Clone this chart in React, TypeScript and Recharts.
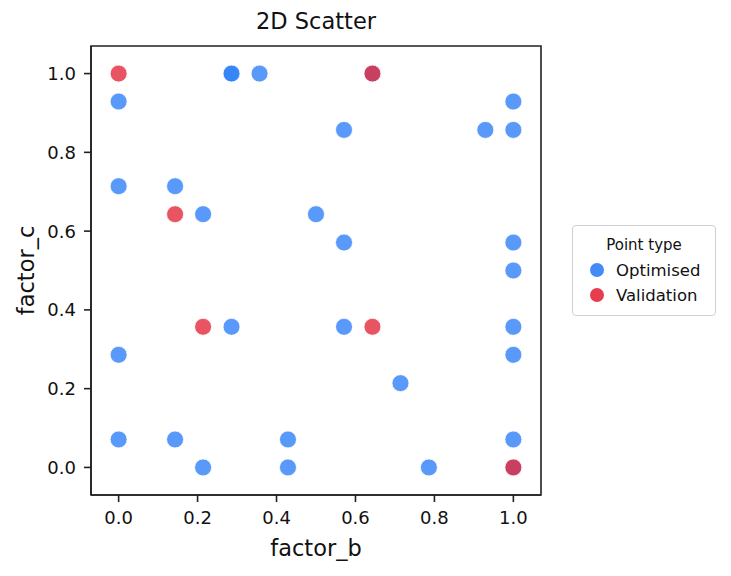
import React from 'react';
import { ScatterChart, Scatter, XAxis, YAxis, ReferenceArea } from 'recharts';

// factor_b / factor_c coordinates per point type
const optimisedB = [0, 0.286, 0.286, 0.357, 0.643, 1.0, 0.571, 0.929, 1.0, 0, 0.143, 0.214, 0.5, 0.571, 1.0, 1.0, 0.286, 0.571, 1.0, 0, 1.0, 0.714, 0, 0.143, 0.429, 1.0, 0.214, 0.429, 0.786, 1.0];
const optimisedC = [0.929, 1.0, 1.0, 1.0, 1.0, 0.929, 0.857, 0.857, 0.857, 0.714, 0.714, 0.643, 0.643, 0.571, 0.571, 0.5, 0.357, 0.357, 0.357, 0.286, 0.286, 0.214, 0.071, 0.071, 0.071, 0.071, 0, 0, 0, 0];
const validationB = [0, 0.643, 0.143, 0.214, 0.643, 1.0];
const validationC = [1.0, 1.0, 0.643, 0.357, 0.357, 0];

const ticks = [0, 0.2, 0.4, 0.6, 0.8, 1.0];
const domain: [number, number] = [-0.07, 1.07];

const BLUE = '#2f7ff7';
const RED = '#e3293b';

const series = [
  { name: 'Optimised', color: BLUE, data: optimisedB.map((b, i) => ({ b, c: optimisedC[i] })) },
  { name: 'Validation', color: RED, data: validationB.map((b, i) => ({ b, c: validationC[i] })) },
];

const dot = (color: string) => (props: any) => (
  <circle cx={props.cx} cy={props.cy} r={8.5} fill={color} fillOpacity={0.8} stroke="#fff" strokeWidth={0.8} />
);

const font = "'DejaVu Sans', sans-serif";
const ink = '#111';

export default function App() {
  return (
    <div style={{ position: 'absolute', left: 0, top: 0, width: 731, height: 576, background: '#fff', fontFamily: font }}>
      <div style={{ position: 'absolute', left: 91, width: 450, top: 8, textAlign: 'center', fontSize: 22.5, color: ink }}>
        2D Scatter
      </div>
      <ScatterChart width={731} height={576} margin={{ top: 46, right: 190, bottom: 11, left: 16 }}>
        <XAxis
          type="number"
          dataKey="b"
          domain={domain}
          ticks={ticks}
          allowDataOverflow
          tickFormatter={(v: number) => v.toFixed(1)}
          height={70}
          tickSize={7}
          tickMargin={9}
          stroke="#222"
          strokeWidth={1.6}
          tick={{ fill: ink, fontSize: 18, fontFamily: font }}
          label={{ value: 'factor_b', position: 'insideBottom', offset: 9, fill: ink, fontSize: 22.5, fontFamily: font }}
        />
        <YAxis
          type="number"
          dataKey="c"
          domain={domain}
          ticks={ticks}
          allowDataOverflow
          tickFormatter={(v: number) => v.toFixed(1)}
          width={75}
          tickSize={7}
          tickMargin={8}
          stroke="#222"
          strokeWidth={1.6}
          tick={{ fill: ink, fontSize: 18, fontFamily: font }}
          label={{ value: 'factor_c', angle: -90, position: 'insideLeft', offset: 10, fill: ink, fontSize: 22.5, fontFamily: font, style: { textAnchor: 'middle' } }}
        />
        <ReferenceArea x1={domain[0]} x2={domain[1]} y1={domain[0]} y2={domain[1]} fill="none" stroke="#222" strokeWidth={1.6} />
        {series.map(s => (
          <Scatter key={s.name} name={s.name} data={s.data} shape={dot(s.color)} isAnimationActive={false} />
        ))}
      </ScatterChart>
      <div style={{ position: 'absolute', left: 572, top: 225, width: 144, height: 91, border: '1.5px solid #d0d0d0', borderRadius: 4, boxSizing: 'border-box', color: ink }}>
        <div style={{ textAlign: 'center', fontSize: 15, marginTop: 10 }}>Point type</div>
        {series.map((s, i) => (
          <div key={s.name} style={{ position: 'absolute', left: 17, top: 33 + i * 25, height: 22, display: 'flex', alignItems: 'center', fontSize: 16.5 }}>
            <span style={{ width: 14, height: 14, borderRadius: '50%', background: s.color, opacity: 0.9, display: 'inline-block', marginRight: 12 }} />
            {s.name}
          </div>
        ))}
      </div>
    </div>
  );
}
